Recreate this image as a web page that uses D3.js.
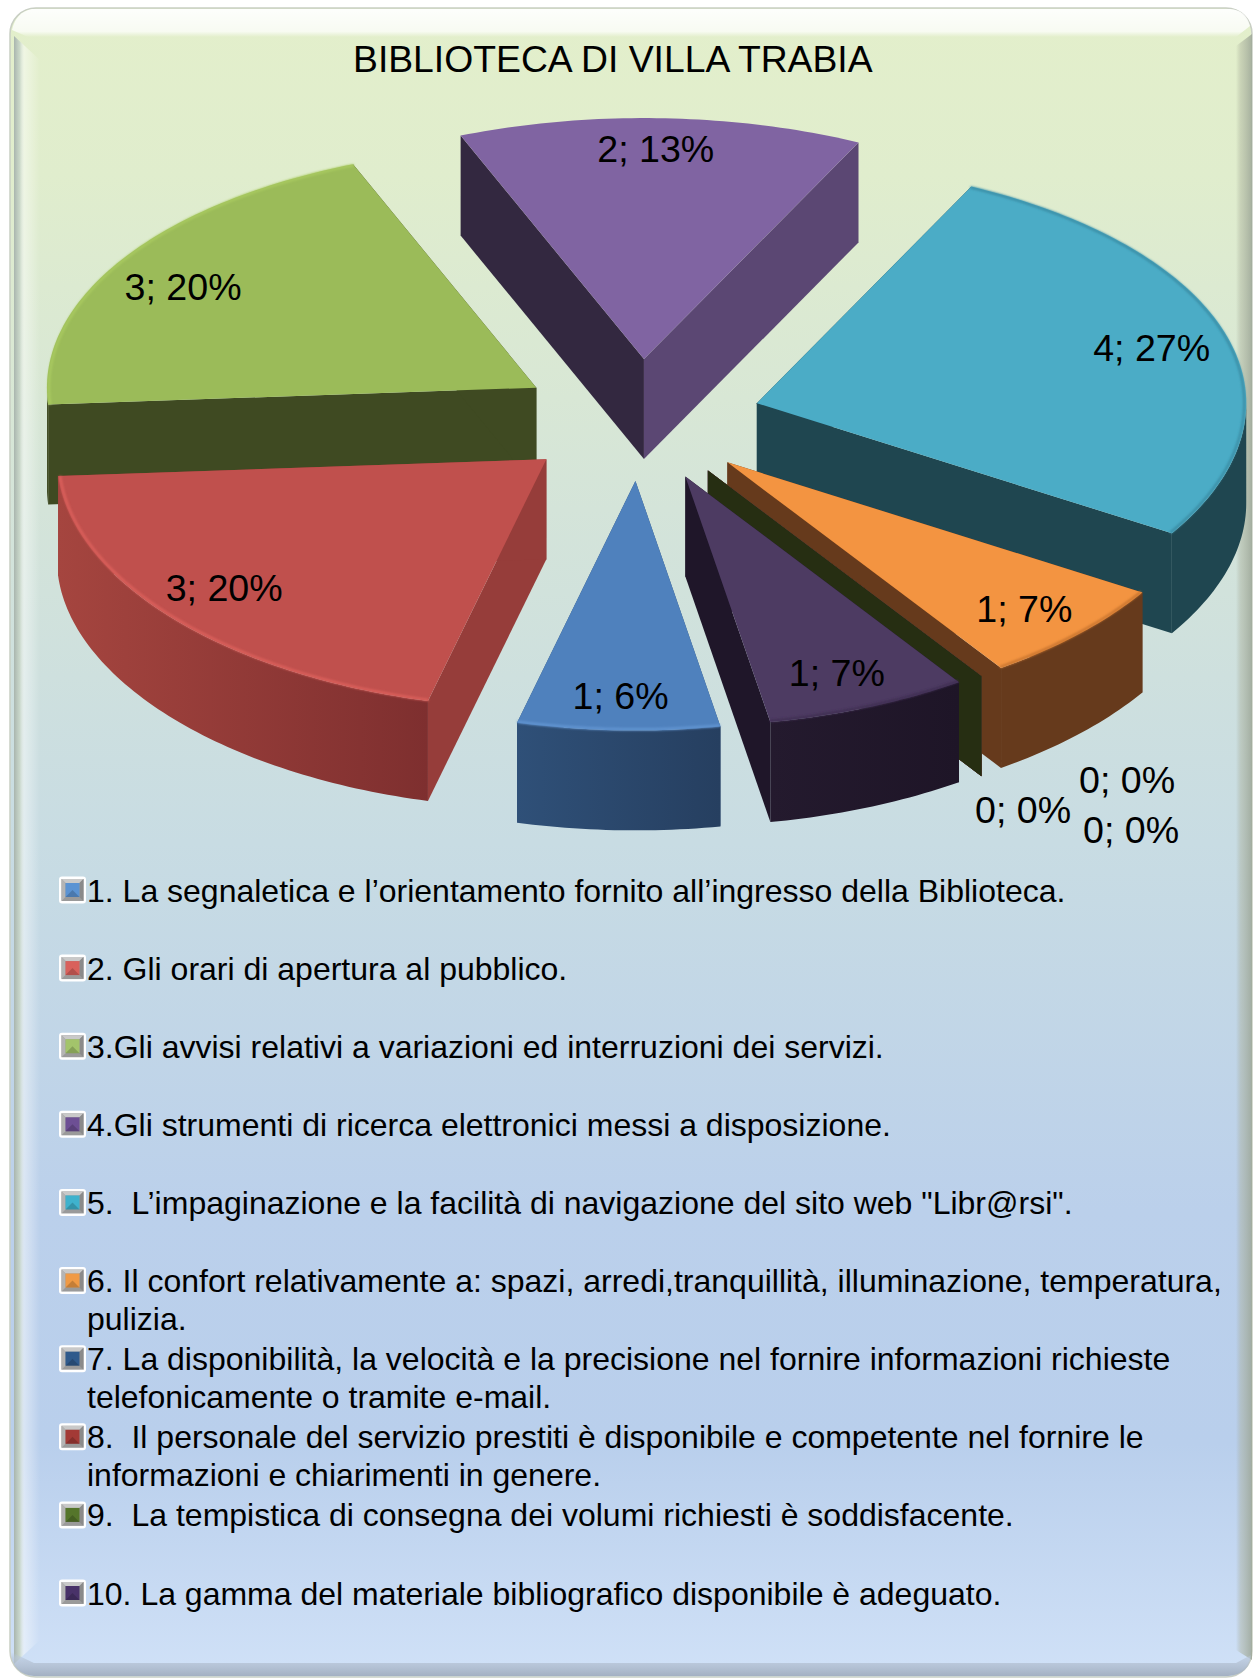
<!DOCTYPE html>
<html>
<head>
<meta charset="utf-8">
<style>
  html, body { margin: 0; padding: 0; background: #fff; }
  svg { display: block; }
  text { font-family: "Liberation Sans", Arial, sans-serif; fill: #000; white-space: pre; }
</style>
<script src="https://cdn.jsdelivr.net/npm/d3@7"></script>
</head>
<body>
<script>
//// Data ////////////////////////////////////////////
const TITLE = "BIBLIOTECA DI VILLA TRABIA"
const values = [1, 3, 3, 2, 4, 1, 0, 0, 0, 1]
const percents = [6, 20, 20, 13, 27, 7, 0, 0, 0, 7]
const legendLines = [
  ["1. La segnaletica e l’orientamento fornito all’ingresso della Biblioteca."],
  ["2. Gli orari di apertura al pubblico."],
  ["3.Gli avvisi relativi a variazioni ed interruzioni dei servizi."],
  ["4.Gli strumenti di ricerca elettronici messi a disposizione."],
  ["5.  L’impaginazione e la facilità di navigazione del sito web \"Libr@rsi\"."],
  ["6. Il confort relativamente a: spazi, arredi,tranquillità, illuminazione, temperatura,", "pulizia."],
  ["7. La disponibilità, la velocità e la precisione nel fornire informazioni richieste", "telefonicamente o tramite e-mail."],
  ["8.  Il personale del servizio prestiti è disponibile e competente nel fornire le", "informazioni e chiarimenti in genere."],
  ["9.  La tempistica di consegna dei volumi richiesti è soddisfacente."],
  ["10. La gamma del materiale bibliografico disponibile è adeguato."]
]

//// Styles //////////////////////////////////////////
const topColors = ["#4f81bd", "#c0504d", "#9bbb59", "#8064a2", "#4bacc6", "#f39441", "#4f81bd", "#c0504d", "#2a3212", "#4d3b62"]
const startWallColors = ["#2f4d75", "#963d3a", "#3f4a22", "#332840", "#1f4650", "#663a1c", "#2f4d75", "#963d3a", "#262e12", "#1f1629"]
const endWallColors = ["#2f4d75", "#963d3a", "#3f4a22", "#5b4773", "#1f4650", "#663a1c", "#2f4d75", "#963d3a", "#262e12", "#1f1629"]
const rimFrom = ["#2f5078", "#a5453f", "#3f4a22", "#5b4773", "#1f4650", "#663a1c", "#2f4d75", "#963d3a", "#262e12", "#241a2e"]
const rimTo = ["#263f60", "#7e2f2f", "#3f4a22", "#5b4773", "#1f4650", "#663a1c", "#2f4d75", "#963d3a", "#262e12", "#1e1527"]
const bevelColors = ["#6295d2", "#dc615c", "#a9ca60", "none", "#3b8ea6", "#c9752f", "none", "none", "none", "#3f2f52"]
const keyColors = ["#5b93d3", "#d9615c", "#a3c46b", "#6d4f94", "#3fb2cd", "#f09a45", "#2f5a8c", "#a33a36", "#55752b", "#493269"]

// draw order, back to front
const drawOrder = [3, 4, 2, 5, 6, 7, 8, 9, 0, 1]

// label nudges from the default label point of each slice
const labelDx = [-2, -41, -42, -1, 42, 33, 214, 218, 110, 14]
const labelDy = [29, 10, -5, -30, -6, 18, 156, 206, 186, 24]

//// Layout //////////////////////////////////////////
const WIDTH = 1254
const HEIGHT = 1679
const CX = 639.7
const CY = 420
const RX = 489.4
const RY = 241
const DEPTH = 100
const EXPLODE_X = 0.249
const EXPLODE_Y = 0.253
const FRONT_STRETCH = 0.035
const START_ANGLE = 170 * Math.PI / 180

const svg = d3.select("body").append("svg")
  .attr("width", WIDTH)
  .attr("height", HEIGHT)
const defs = svg.append("defs")

function vertical(id, stops) {
  const g = defs.append("linearGradient").attr("id", id)
    .attr("x1", 0).attr("y1", 0).attr("x2", 0).attr("y2", 1)
  stops.forEach(s => g.append("stop").attr("offset", s[0]).attr("stop-color", s[1]).attr("stop-opacity", s[2] === undefined ? 1 : s[2]))
}

function horizontal(id, stops) {
  const g = defs.append("linearGradient").attr("id", id)
    .attr("x1", 0).attr("y1", 0).attr("x2", 1).attr("y2", 0)
  stops.forEach(s => g.append("stop").attr("offset", s[0]).attr("stop-color", s[1]).attr("stop-opacity", s[2] === undefined ? 1 : s[2]))
}

defs.append("filter").attr("id", "soft")
  .attr("filterUnits", "userSpaceOnUse").attr("x", 0).attr("y", 0).attr("width", WIDTH).attr("height", HEIGHT)
  .append("feGaussianBlur").attr("stdDeviation", 0.8)

//// Panel ///////////////////////////////////////////
vertical("panelFill", [
  [0, "#e3efcb"], [0.1, "#e0edcd"], [0.3, "#d4e4d9"], [0.5, "#c8dce3"],
  [0.72, "#bbd0eb"], [0.86, "#b9cfec"], [1, "#d0e1f7"]
])
vertical("bevelTop", [[0, "#fff", 0.95], [0.8, "#fff", 0.75], [1, "#fff", 0]])
vertical("bevelBottom", [[0, "#b8c6d8", 0], [0.25, "#b8c6d8", 0.65], [1, "#a3b0c2", 1]])
horizontal("bevelLeft", [[0, "#a9b5ae", 1], [0.22, "#c8d6c8", 0.9], [0.4, "#fff", 0.45], [1, "#fff", 0]])
horizontal("bevelRight", [[0, "#9aa08e", 0], [0.3, "#aab09c", 0.45], [1, "#9ba596", 0.85]])

const panel = svg.append("g")
panel.append("rect").attr("x", 10).attr("y", 8).attr("width", 1242).attr("height", 1669)
  .attr("rx", 26).attr("fill", "url(#panelFill)").attr("stroke", "#c9cfc4").attr("stroke-width", 1.5)
panel.append("path").attr("d", "M14 36 L40 60 L40 1640 L14 1664 Z").attr("fill", "url(#bevelLeft)")
panel.append("path").attr("d", "M1252 34 L1236 46 L1236 1650 L1252 1660 Z").attr("fill", "url(#bevelRight)")
panel.append("path").attr("d", "M32 9 L1230 9 Q1246 10 1250 26 L1236 37 L28 37 L12 30 Q16 12 32 9 Z").attr("fill", "url(#bevelTop)")
panel.append("path").attr("d", "M34 1663 L1236 1663 L1251 1655 Q1250 1674 1228 1676 L34 1676 Q12 1674 11 1652 Z").attr("fill", "url(#bevelBottom)")

//// Title ///////////////////////////////////////////
svg.append("text").attr("x", 353).attr("y", 72)
  .attr("font-size", 37.3).text(TITLE)

//// Pie /////////////////////////////////////////////
const pie = d3.pie().sort(null).value(d => d)
  .startAngle(START_ANGLE).endAngle(START_ANGLE + 2 * Math.PI)
const slices = pie(values)
const xScale = d3.scaleLinear().domain([-1, 1]).range([-RX, RX])
const yScale = d3.scaleLinear().domain([-1, 1]).range([-RY, RY])

function project(angle, radius) {
  const v = -radius * Math.cos(angle)
  // the near half of the pie comes out a little deeper than the far half
  const stretched = v > 0 ? v * (1 + FRONT_STRETCH * v) : v
  return [xScale(radius * Math.sin(angle)), yScale(stretched)]
}

function apexOf(s) {
  const mid = (s.startAngle + s.endAngle) / 2
  return [CX + xScale(EXPLODE_X * Math.sin(mid)), CY + yScale(-EXPLODE_Y * Math.cos(mid))]
}

function sampleAngles(a0, a1) {
  const n = Math.max(2, Math.ceil(Math.abs(a1 - a0) * 180 / Math.PI))
  return d3.range(n + 1).map(i => a0 + (a1 - a0) * i / n)
}

const line = d3.line()
const chart = svg.append("g")

drawOrder.forEach(i => {
  const s = slices[i]
  const apex = apexOf(s)
  const at = (a, r, drop) => {
    const p = project(a, r)
    return [apex[0] + p[0], apex[1] + p[1] + drop]
  }
  const wall = (a, fill) => chart.append("path")
    .attr("d", line([at(a, 0, 0), at(a, 1, 0), at(a, 1, DEPTH), at(a, 0, DEPTH)]) + "Z")
    .attr("fill", fill)

  wall(s.startAngle, startWallColors[i])
  wall(s.endAngle, endWallColors[i])

  const samples = sampleAngles(s.startAngle, s.endAngle)
  const front = samples.filter(a => Math.cos(a) <= 0)
  if (front.length > 1) {
    horizontal("rim" + i, [[0, rimFrom[i]], [1, rimTo[i]]])
    const pts = front.map(a => at(a, 1, 0))
      .concat(front.slice().reverse().map(a => at(a, 1, DEPTH)))
    chart.append("path").attr("d", line(pts) + "Z").attr("fill", "url(#rim" + i + ")")
  }

  if (s.value > 0) {
    const rim = samples.map(a => at(a, 1, 0))
    chart.append("path").attr("d", line([at(s.startAngle, 0, 0)].concat(rim)) + "Z")
      .attr("fill", topColors[i])
    if (bevelColors[i] != "none") {
      chart.append("path").attr("d", line(samples.map(a => at(a, 0.996, 0))))
        .attr("fill", "none").attr("stroke", bevelColors[i]).attr("stroke-width", 2.5)
        .attr("filter", "url(#soft)")
    }
  }
})

// labels on top of every slice
slices.forEach((s, i) => {
  const mid = (s.startAngle + s.endAngle) / 2
  const apex = apexOf(s)
  const p = project(mid, 0.75)
  chart.append("text")
    .attr("x", apex[0] + p[0] + labelDx[i])
    .attr("y", apex[1] + p[1] + labelDy[i])
    .attr("dy", "0.36em")
    .attr("text-anchor", "middle")
    .attr("font-size", 37.6)
    .text(`${s.value}; ${percents[i]}%`)
})

//// Legend //////////////////////////////////////////
const legendY = d3.scaleLinear().domain([0, legendLines.length - 1]).range([890, 1593])
const legend = svg.append("g")

legendLines.forEach((lines, i) => {
  const row = legend.append("g").attr("transform", `translate(59,${legendY(i)})`)
  row.append("rect").attr("x", 0).attr("y", -13.5).attr("width", 27).attr("height", 27)
    .attr("rx", 3).attr("fill", "#fff")
  row.append("rect").attr("x", 2.5).attr("y", -11).attr("width", 22).attr("height", 22).attr("fill", "#9a9a9a")
  row.append("path").attr("d", "M2.5 -11 L24.5 -11 L20.5 -7 L6.5 -7 Z").attr("fill", "#c9c9c9")
  row.append("path").attr("d", "M2.5 -11 L6.5 -7 L6.5 7 L2.5 11 Z").attr("fill", "#b4b4b4")
  row.append("path").attr("d", "M24.5 -11 L20.5 -7 L20.5 7 L24.5 11 Z").attr("fill", "#8a8a8a")
  row.append("rect").attr("x", 6.5).attr("y", -7).attr("width", 14).attr("height", 14).attr("fill", keyColors[i])
  row.append("path").attr("d", "M6.5 7 L13.5 0 L20.5 7 Z").attr("fill", "#000").attr("opacity", 0.18)

  lines.forEach((t, j) => {
    legend.append("text")
      .attr("x", 87)
      .attr("y", legendY(i) + j * 37.5)
      .attr("dy", "0.36em")
      .attr("font-size", 32)
      .text(t)
  })
})
</script>
</body>
</html>
